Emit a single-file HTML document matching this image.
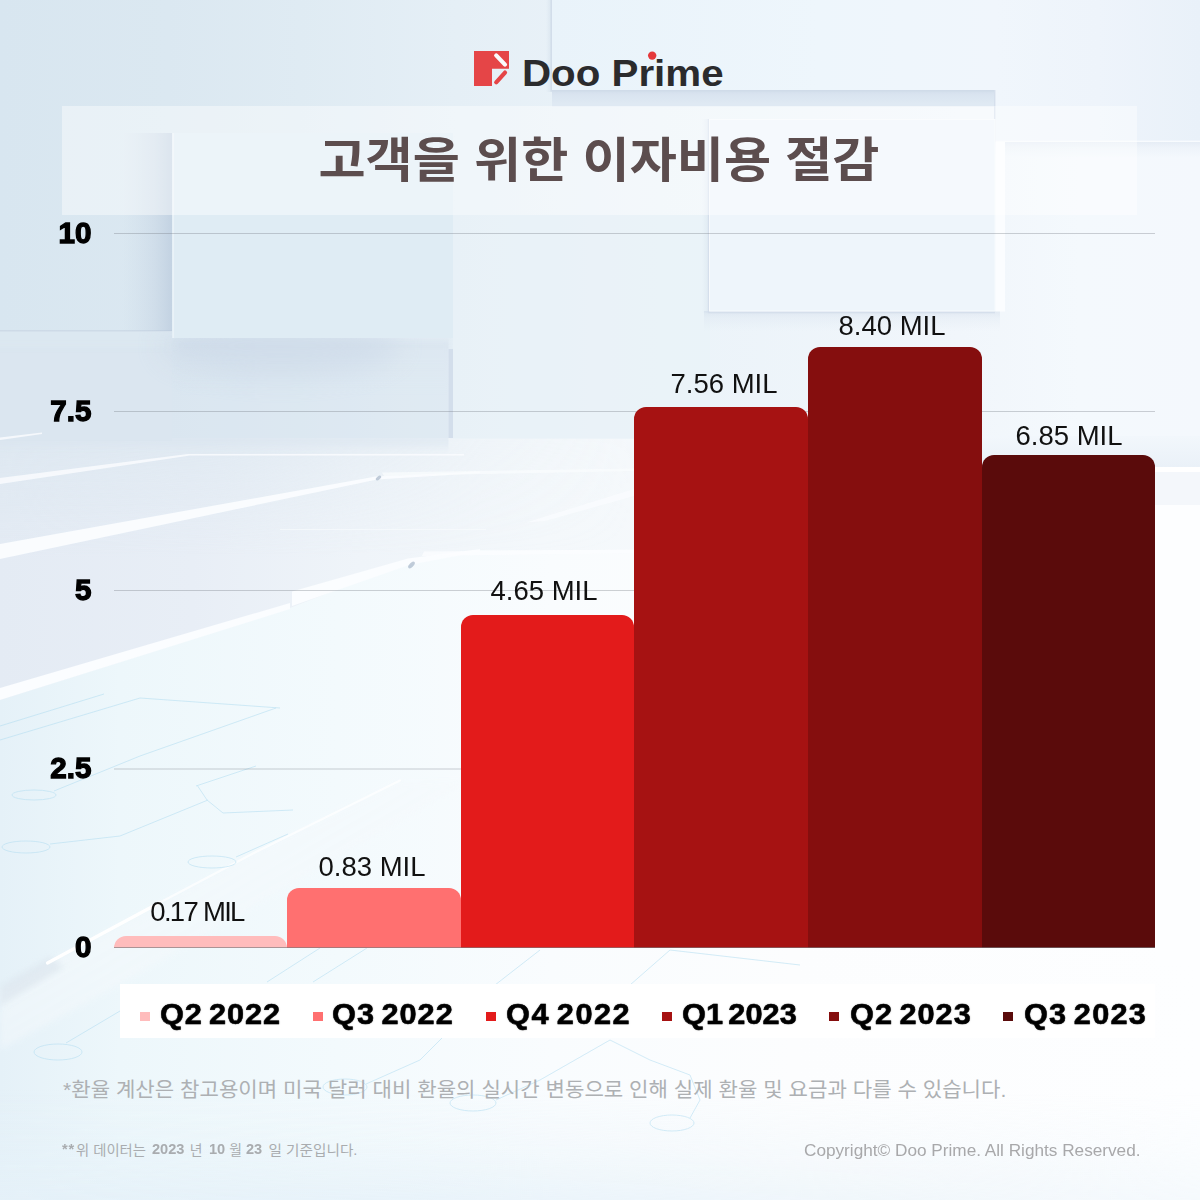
<!DOCTYPE html>
<html lang="ko">
<head>
<meta charset="utf-8">
<title>Doo Prime - 고객을 위한 이자비용 절감</title>
<style>
html,body{margin:0;padding:0;background:#fff}
body{width:1200px;height:1200px;overflow:hidden;font-family:"Liberation Sans",sans-serif}
#page{position:relative;width:1200px;height:1200px;overflow:hidden;background:#e9f0f6}
#page>*{position:absolute}
svg{display:block}
.sr{color:transparent;white-space:nowrap;overflow:hidden;margin:0;font-weight:400}
.banner{left:62px;top:106px;width:1075px;height:109px;background:rgba(255,255,255,0.42)}
.grid{left:114px;width:1041px;height:1px;background:rgba(118,124,132,.35)}
.axis{left:114px;top:947px;width:1041px;height:1px;background:rgba(120,122,126,.62)}
.bar{}
.ylab{will-change:transform;left:0;width:91.4px;text-align:right;font-weight:700;font-size:29.6px;line-height:29.6px;color:#000;-webkit-text-stroke:1.3px #000;white-space:nowrap}
.blab{will-change:transform;width:200px;text-align:center;font-size:27.5px;line-height:27.5px;color:#111;white-space:nowrap}
.legend{left:120px;top:984px;width:1035px;height:54px;background:#fff}
.lm{top:1011.8px;width:10px;height:9px}
.lt{word-spacing:-3px;top:1000.2px;font-weight:700;font-size:29px;line-height:29px;color:#000;white-space:nowrap;transform-origin:0 0;transform:scaleX(1.06);-webkit-text-stroke:0.5px #000;text-shadow:0 0 1.5px rgba(0,0,0,.55)}
.copy{will-change:transform;left:804.1px;top:1141.6px;font-size:17.2px;line-height:17.2px;color:#a8a8aa;white-space:nowrap;margin:0}
.f2n{will-change:transform;font-weight:700;font-size:14.6px;line-height:14.6px;color:#a9acaf;top:1142.40px;white-space:nowrap}
</style>
</head>
<body>
<div id="page">
<svg id="bg" style="left:0;top:0" width="1200" height="1200" viewBox="0 0 1200 1200" aria-hidden="true">
<defs>
<linearGradient id="gWall" x1="0" y1="0" x2="1" y2="0">
<stop offset="0" stop-color="#d8e6f0"/><stop offset=".14" stop-color="#dbe8f1"/><stop offset=".25" stop-color="#dfebf3"/><stop offset=".38" stop-color="#e5eff6"/><stop offset=".55" stop-color="#ebf3f9"/><stop offset=".8" stop-color="#f1f6fb"/><stop offset=".9" stop-color="#f4f9fd"/><stop offset="1" stop-color="#f4f8fd"/>
</linearGradient>
<linearGradient id="gFloorH" x1="0" y1="0" x2="1" y2="0">
<stop offset="0" stop-color="#e4ebf4"/><stop offset=".16" stop-color="#e8eef6"/><stop offset=".3" stop-color="#eff4f9"/><stop offset=".45" stop-color="#f4f8fb"/><stop offset=".96" stop-color="#fbfcfe"/><stop offset="1" stop-color="#fdfeff"/>
</linearGradient>
<linearGradient id="gLowH" x1="0" y1="0" x2="1" y2="0">
<stop offset="0" stop-color="#e5f1f8"/><stop offset=".1" stop-color="#edf7fb"/><stop offset=".28" stop-color="#f3fafd"/><stop offset=".46" stop-color="#f9fcfe"/><stop offset=".66" stop-color="#fcfdfe"/><stop offset="1" stop-color="#fdfeff"/>
</linearGradient>
<linearGradient id="gBottom" x1="0" y1="0" x2="0" y2="1">
<stop offset="0" stop-color="#e6f2f9" stop-opacity="0"/><stop offset=".5" stop-color="#e6f2f9" stop-opacity=".3"/><stop offset="1" stop-color="#e4f0f8" stop-opacity=".85"/>
</linearGradient>
<linearGradient id="gShadowDown" x1="0" y1="0" x2="0" y2="1">
<stop offset="0" stop-color="#c6d3e4" stop-opacity=".7"/><stop offset=".35" stop-color="#ccd8e8" stop-opacity=".35"/><stop offset="1" stop-color="#ccd8e8" stop-opacity="0"/>
</linearGradient>
<linearGradient id="gShadowLeft" x1="1" y1="0" x2="0" y2="0">
<stop offset="0" stop-color="#c6d5e4" stop-opacity=".6"/><stop offset="1" stop-color="#c6d5e4" stop-opacity="0"/>
</linearGradient>
<linearGradient id="gShadowLeft2" x1="1" y1="0" x2="0" y2="0">
<stop offset="0" stop-color="#b4c5d9" stop-opacity=".62"/><stop offset=".35" stop-color="#bccbdd" stop-opacity=".36"/><stop offset="1" stop-color="#c6d5e4" stop-opacity="0"/>
</linearGradient>
<linearGradient id="gPanelB" x1="0" y1="0" x2="1" y2="0">
<stop offset="0" stop-color="#e9f3fa"/><stop offset=".6" stop-color="#eef6fc"/><stop offset="1" stop-color="#f0f6fc"/>
</linearGradient>
<linearGradient id="gPanelD" x1="0" y1="0" x2="1" y2="0">
<stop offset="0" stop-color="#f0f6fc"/><stop offset=".5" stop-color="#eef4fb"/><stop offset="1" stop-color="#e9f1f9"/>
</linearGradient>
<linearGradient id="gRW" x1="0" y1="0" x2="0" y2="1">
<stop offset="0" stop-color="#f2f7fc"/><stop offset="1" stop-color="#eaf1f8"/>
</linearGradient>
<linearGradient id="gSeam" x1="0" y1="0" x2="0" y2="1">
<stop offset="0" stop-color="#dce7f0" stop-opacity="1"/><stop offset="1" stop-color="#dce7f0" stop-opacity="0"/>
</linearGradient>
<linearGradient id="gDiag" x1="0" y1="0" x2="1" y2="1">
<stop offset="0" stop-color="#f5f9fc" stop-opacity="1"/><stop offset="1" stop-color="#f5f9fc" stop-opacity=".3"/>
</linearGradient>
<linearGradient id="gMaskH" x1="0" y1="0" x2="1" y2="0"><stop offset="0" stop-color="#fff"/><stop offset=".35" stop-color="#ddd"/><stop offset="1" stop-color="#555"/></linearGradient>
<mask id="mBottom" maskUnits="userSpaceOnUse" x="0" y="1090" width="1200" height="110"><rect x="0" y="1090" width="1200" height="110" fill="url(#gMaskH)"/></mask>
<filter id="b12" x="-30%" y="-60%" width="160%" height="220%"><feGaussianBlur stdDeviation="14"/></filter>
<clipPath id="cA"><path d="M60 332H172V338H453V440H60Z"/></clipPath>
<linearGradient id="gMaskS" x1="0" y1="0" x2="1" y2="0"><stop offset="0" stop-color="#fff"/><stop offset=".35" stop-color="#ccc"/><stop offset=".75" stop-color="#333"/><stop offset="1" stop-color="#000"/></linearGradient>
<mask id="mSeam" maskUnits="userSpaceOnUse" x="0" y="438" width="640" height="120"><rect x="0" y="438" width="640" height="120" fill="url(#gMaskS)"/></mask>
<clipPath id="cA2"><path d="M0 332H172V338H448.5V470H0Z"/></clipPath>
<filter id="b3" x="-20%" y="-20%" width="140%" height="140%"><feGaussianBlur stdDeviation="3"/></filter>
<filter id="b1" x="-10%" y="-50%" width="120%" height="200%"><feGaussianBlur stdDeviation=".7"/></filter>
</defs>
<!-- wall -->
<rect x="0" y="0" width="1200" height="445" fill="url(#gWall)"/>
<!-- floor -->
<rect x="0" y="438" width="1200" height="762" fill="url(#gFloorH)"/>
<rect x="0" y="438" width="640" height="120" fill="url(#gSeam)" opacity=".75" mask="url(#mSeam)"/>
<!-- lower floor (below 4th band), lighter cyan-white -->
<path d="M0 700L290 608L408 562L480 550H1200V1200H0Z" fill="url(#gLowH)"/>
<!-- left wall / floor seam -->
<rect x="0" y="331" width="172" height="110" fill="#dce8f1"/>
<rect x="0" y="330.2" width="172" height="1.2" fill="#cbd8e5"/>
<!-- panel B (top centre) -->
<rect x="552" y="0" width="443" height="90" fill="url(#gPanelB)"/>
<rect x="552" y="90" width="443" height="16.5" fill="#dfe9f3"/>
<rect x="552" y="90" width="443" height="14" fill="url(#gShadowDown)" opacity=".8"/>
<rect x="546" y="0" width="6" height="92" fill="url(#gShadowLeft)" opacity=".7"/>
<path d="M551.2 0V90.8H995" fill="none" stroke="#cfdbe9" stroke-width="1.4" opacity=".8"/>
<!-- panel D (top right) -->
<rect x="995" y="0" width="205" height="142" fill="url(#gPanelD)"/>
<rect x="995" y="140.6" width="205" height="1.4" fill="#f8fbfe"/>
<rect x="994" y="90" width="1.4" height="52" fill="#d5dfec"/>
<rect x="995" y="142" width="205" height="16" fill="url(#gShadowDown)" opacity=".45"/>
<!-- panel A shadow and body -->
<g clip-path="url(#cA2)"><path d="M172 340H460V448H-20V345H172Z" fill="#d9e4ef" opacity=".45" filter="url(#b3)"/></g>
<rect x="122" y="133" width="50" height="198" fill="url(#gShadowLeft2)"/>
<rect x="176" y="338" width="275" height="60" fill="url(#gShadowDown)" opacity=".25" filter="url(#b3)"/>
<g clip-path="url(#cA)"><ellipse cx="280" cy="346" rx="120" ry="30" fill="#c4d2e3" opacity=".4" filter="url(#b12)"/></g>
<rect x="172.5" y="133" width="280.5" height="205" fill="#dfecf4"/>
<rect x="172.5" y="133" width="1.2" height="205" fill="#eef5f9"/>
<!-- box right of x=453 (left face) -->
<rect x="453" y="215" width="257" height="224" fill="#eaf2f8" opacity=".7"/>
<rect x="448.5" y="349" width="4.5" height="89" fill="#d3deeb"/>
<!-- panel C -->
<rect x="702" y="119" width="8" height="194" fill="url(#gShadowLeft)" opacity=".55"/>
<rect x="704" y="311" width="296" height="20" fill="url(#gShadowDown)" opacity=".55"/>
<path d="M708.6 119V312.4H995" fill="none" stroke="#d2ddea" stroke-width="1.6" opacity=".85"/>
<rect x="709.5" y="119.5" width="285.5" height="191.5" fill="#eef5fb" stroke="#f7fafd" stroke-width="1"/>
<rect x="995.5" y="142" width="9.5" height="169.5" fill="#fbfdff"/>
<!-- right floor highlight -->
<rect x="634" y="436" width="566" height="31" fill="url(#gRW)"/>
<rect x="1100" y="467" width="100" height="5" fill="#fff"/>
<rect x="1155" y="472" width="45" height="34" fill="#f4f7fb"/>
<rect x="1155" y="505" width="45" height="460" fill="#fdfeff"/>
<!-- floor bands -->
<g fill="#fbfdff" filter="url(#b1)">
<path d="M0 437.5L42 432.5V434L0 440Z" opacity=".8"/>
<path d="M0 478L188 454H464V455.6H190L0 484Z" opacity=".8"/>
<path d="M0 544L376 476.5L480 471.5V473L377 479.5L0 559Z" opacity=".95"/>
<path d="M0 688L290 603V609L0 700Z"/>
<path d="M292 591.5L408 558.5L480 549V551.5L409 565L292 606Z"/>
</g>
<!-- tile details -->
<g opacity=".9">
<path d="M382 472.5L634 468.5V471L384 476Z" fill="#fafcfe" opacity=".8"/>
<path d="M424 551.5L634 549.5V553L422 556Z" fill="#fcfdff" opacity=".9"/>
<path d="M526 522.5L634 489V496L545 521Z" fill="#fbfdff" opacity=".75" filter="url(#b1)"/>
<path d="M280 529.5H486" stroke="#f8fbfd" stroke-width="1.2" opacity=".7"/>
<ellipse cx="378.5" cy="478" rx="3.2" ry="1.6" transform="rotate(-40 378.5 478)" fill="#a9b8ca" opacity=".8"/>
<ellipse cx="411.5" cy="565" rx="4.2" ry="2" transform="rotate(-45 411.5 565)" fill="#a9b8ca" opacity=".8"/>
</g>
<!-- lower-left diagonal -->
<path d="M47 964L253 854L400 781H470L300 880L120 985L0 1050V990Z" fill="url(#gDiag)" opacity=".75" filter="url(#b3)"/>
<path d="M0 986L50 957L64 967L0 1006Z" fill="#d9e3ec" opacity=".6" filter="url(#b3)"/>
<path d="M47.5 963L160 902.5" stroke="#fff" stroke-width="3.2" stroke-linecap="round"/>
<path d="M160 902.5L253 853.5L400 780.5" fill="none" stroke="#fff" stroke-width="2.2" stroke-linecap="round" opacity=".7"/>
<!-- bottom tint -->
<rect x="0" y="1090" width="1200" height="110" fill="url(#gBottom)" mask="url(#mBottom)"/>
<!-- circuit lines -->
<g fill="none" stroke="#b2ddf1" stroke-width=".9" opacity=".62">
<ellipse cx="34" cy="795" rx="22" ry="5"/><ellipse cx="26" cy="847" rx="24" ry="6"/><ellipse cx="212" cy="862" rx="24" ry="6"/><ellipse cx="58" cy="1052" rx="24" ry="8"/>
<ellipse cx="473" cy="1103" rx="23" ry="8"/><ellipse cx="672" cy="1123" rx="22" ry="8"/><ellipse cx="345" cy="1087" rx="22" ry="8"/>
<path d="M0 726L104 694M0 740L140 698L280 708M54 791L140 756L276 708M196 786L256 766M197 785L207 800L223 813L293 810M50 844L120 836L208 800M236 857L288 834"/>
<path d="M66 1043L120 1011M267 982L320 948M313 982L367 948M496 1100L540 1080L610 1040L650 1060L690 1075L700 1100L690 1118M495 985L540 950M630 985L670 950L800 965M366 1084L420 1060L470 1010"/>
</g>
</svg>

<!-- logo -->
<svg class="logo" role="img" aria-label="Doo Prime" style="left:0;top:0" width="1200" height="110" viewBox="0 0 1200 110">
<path d="M474 51H509V68.8H492V86H474Z" fill="#e54547"/>
<path d="M496.2 55.4L505 64.6" stroke="#fafbfd" stroke-width="4.2" stroke-linecap="round" fill="none"/>
<path d="M496.2 82.3L505 72.6" stroke="#e54547" stroke-width="4.2" stroke-linecap="round" fill="none"/>
<text x="521.9" y="85.5" font-family="'Liberation Sans', sans-serif" font-weight="700" font-size="37.5" fill="#2b2b2d" textLength="201.7" lengthAdjust="spacingAndGlyphs">Doo Prime</text>
<circle cx="652.19" cy="55.6" r="4.2" fill="#e5393b"/>
</svg>

<!-- title banner -->
<div class="banner"></div>
<svg class="title" role="img" aria-label="고객을 위한 이자비용 절감" style="left:0;top:100px" width="1200" height="120" viewBox="0 100 1200 120"><text x="318.5" y="176.5" font-family="'Liberation Sans', 'Noto Sans CJK KR', sans-serif" font-weight="700" font-size="47.5" fill="#5c4d4e" textLength="561" lengthAdjust="spacingAndGlyphs">고객을 위한 이자비용 절감</text></svg>
<h1 class="sr" style="left:316.73px;top:132px;width:565px;height:54px;font-size:46px;line-height:54px">고객을 위한 이자비용 절감</h1>

<!-- chart -->
<div class="grid" style="top:233px"></div>
<div class="grid" style="top:411px"></div>
<div class="grid" style="top:590px"></div>
<div class="grid" style="top:768px;height:2px;opacity:.52"></div>
<div class="ylab" style="top:217.8px">10</div>
<div class="ylab" style="top:395.8px">7.5</div>
<div class="ylab" style="top:574.8px">5</div>
<div class="ylab" style="top:753.3px">2.5</div>
<div class="ylab" style="top:931.5px">0</div>
<div class="bar" style="left:114px;top:935.8px;width:173.20px;height:12.20px;background:#ffbcbc;border-radius:12px 12px 0 0"></div>
<div class="bar" style="left:287.2px;top:888.4px;width:173.60px;height:59.60px;background:#ff7070;border-radius:12px 12px 0 0"></div>
<div class="bar" style="left:460.8px;top:615px;width:173.50px;height:333.00px;background:#e31b1b;border-radius:12px 12px 0 0"></div>
<div class="bar" style="left:634.3px;top:406.8px;width:173.70px;height:541.20px;background:#a61212;border-radius:12px 12px 0 0"></div>
<div class="bar" style="left:808px;top:347.2px;width:173.50px;height:600.80px;background:#850e0e;border-radius:12px 12px 0 0"></div>
<div class="bar" style="left:981.5px;top:455px;width:173.50px;height:493.00px;background:#5a0b0b;border-radius:12px 12px 0 0"></div>
<div class="axis"></div>
<div class="blab" style="left:97.3px;top:898.2px;letter-spacing:-1.7px">0.17 MIL</div>
<div class="blab" style="left:272.0px;top:852.9px;letter-spacing:0px">0.83 MIL</div>
<div class="blab" style="left:443.6px;top:576.6px;letter-spacing:0px">4.65 MIL</div>
<div class="blab" style="left:624.0px;top:369.7px;letter-spacing:0px">7.56 MIL</div>
<div class="blab" style="left:792.0px;top:311.6px;letter-spacing:0px">8.40 MIL</div>
<div class="blab" style="left:968.8px;top:422.4px;letter-spacing:0px">6.85 MIL</div>

<!-- legend -->
<div class="legend"></div>
<div class="lm" style="left:140px;background:#ffbcbc"></div><div class="lt" style="left:160.4px;letter-spacing:0.85px">Q2 2022</div>
<div class="lm" style="left:312.5px;background:#ff7070"></div><div class="lt" style="left:332.3px;letter-spacing:0.95px">Q3 2022</div>
<div class="lm" style="left:486px;background:#e31b1b"></div><div class="lt" style="left:506.1px;letter-spacing:1.4px">Q4 2022</div>
<div class="lm" style="left:661.7px;background:#a61212"></div><div class="lt" style="left:682.1px;letter-spacing:0.0px">Q1 2023</div>
<div class="lm" style="left:829.3px;background:#850e0e"></div><div class="lt" style="left:849.5px;letter-spacing:0.95px">Q2 2023</div>
<div class="lm" style="left:1003px;background:#5a0b0b"></div><div class="lt" style="left:1023.8px;letter-spacing:1.1px">Q3 2023</div>

<!-- footnotes -->
<svg class="foot" role="img" aria-label="*환율 계산은 참고용이며 미국 달러 대비 환율의 실시간 변동으로 인해 실제 환율 및 요금과 다를 수 있습니다." style="left:0;top:1060px" width="1200" height="110" viewBox="0 1060 1200 110">
<text x="63" y="1096.5" font-family="'Liberation Sans', 'Noto Sans CJK KR', sans-serif" font-size="20.5" fill="#adb0b3" textLength="943.3" lengthAdjust="spacingAndGlyphs">*환율 계산은 참고용이며 미국 달러 대비 환율의 실시간 변동으로 인해 실제 환율 및 요금과 다를 수 있습니다.</text>
<g font-family="'Liberation Sans', 'Noto Sans CJK KR', sans-serif" font-size="13.8" fill="#a9acaf">
<text x="76" y="1154.6" textLength="70" lengthAdjust="spacingAndGlyphs">위 데이터는</text>
<text x="189.8" y="1154.6">년</text>
<text x="229.2" y="1154.6">월</text>
<text x="268.6" y="1154.6" textLength="88.8" lengthAdjust="spacingAndGlyphs">일 기준입니다.</text>
</g>
</svg>
<p class="sr" style="left:61.6px;top:1076px;width:946px;height:26px;font-size:20px;line-height:26px">*환율 계산은 참고용이며 미국 달러 대비 환율의 실시간 변동으로 인해 실제 환율 및 요금과 다를 수 있습니다.</p>
<span class="f2n" aria-hidden="true" style="left:62.2px;letter-spacing:0.9px">**</span><span class="f2n" aria-hidden="true" style="left:152.2px;letter-spacing:0px">2023</span><span class="f2n" aria-hidden="true" style="left:208.6px;letter-spacing:0px">10</span><span class="f2n" aria-hidden="true" style="left:246.2px;letter-spacing:0px">23</span>
<p class="sr" style="left:61.6px;top:1140px;width:296px;height:18px;font-size:13px;line-height:18px">**위 데이터는 2023 년 10 월 23 일 기준입니다.</p>
<p class="copy">Copyright© Doo Prime. All Rights Reserved.</p>
</div>
</body>
</html>
